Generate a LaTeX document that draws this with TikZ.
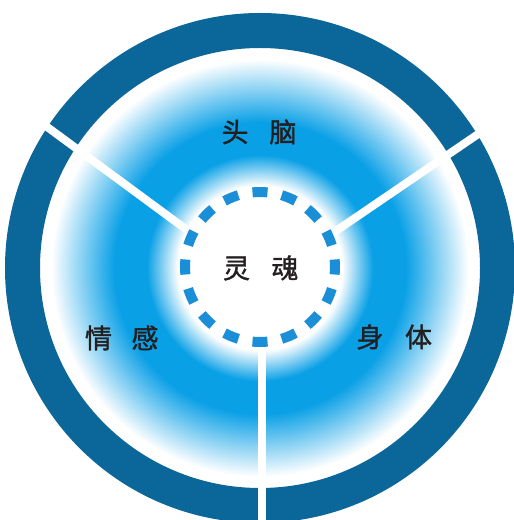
\documentclass[tikz,border=0pt]{standalone}
\usepackage{fontspec}
\newfontfamily\cjk[FakeBold=1.3]{Noto Sans CJK SC}
\definecolor{ringblue}{HTML}{0B6699}
\definecolor{peakblue}{HTML}{0AA0E6}
\definecolor{dashblue}{HTML}{1A8FD8}
\definecolor{txt}{HTML}{231F20}
\pgfdeclareradialshading{ringshade}{\pgfpoint{0bp}{0bp}}{color(0bp)=(white); color(9.3bp)=(white); color(12.8bp)=(peakblue); color(16.5bp)=(peakblue); color(23.6bp)=(white); color(50bp)=(white)}
\begin{document}
\begin{tikzpicture}[x=1pt,y=1pt,
  lab/.style={font=\cjk\fontsize{27}{27}\selectfont, text=txt, inner sep=0pt},
  spoke/.style={white, line width=8pt},
  dashseg/.style={dashblue, line width=10pt}]
\useasboundingbox (0,0) rectangle (514,520);
\fill[white] (0,0) rectangle (514,520);
\coordinate (C) at (260,252);
\coordinate (S) at (260,253);
\shade[shading=ringshade] (C) circle[radius=221];
\draw[ringblue, line width=35pt] (C) circle[radius=237.5];
% spokes
\coordinate (b1) at (262,174);
\coordinate (b2) at (262,-6);
\coordinate (l1) at (187,290);
\coordinate (l2) at (35,402);
\coordinate (r1) at (330,285);
\coordinate (r2) at (490,394);
\draw[spoke] (b1) -- (b2);
\draw[spoke] (l1) -- (l2);
\draw[spoke] (r1) -- (r2);
% dashed inner circle
\foreach \a in {0,22.5,...,337.5}
  \draw[dashseg] ([shift={(\a-5.75:75)}]S) arc[start angle=\a-5.75, end angle=\a+5.75, radius=75];
% labels
\node[lab] (head) at (259,388) {头\hspace{21pt}脑};
\node[lab] (soul) at (260.75,252) {灵\hspace{21.5pt}魂};
\node[lab] (emo) at (121.75,182) {情\hspace{19.5pt}感};
\node[lab] (body) at (394.25,183) {身\hspace{21.5pt}体};
\end{tikzpicture}
\end{document}
